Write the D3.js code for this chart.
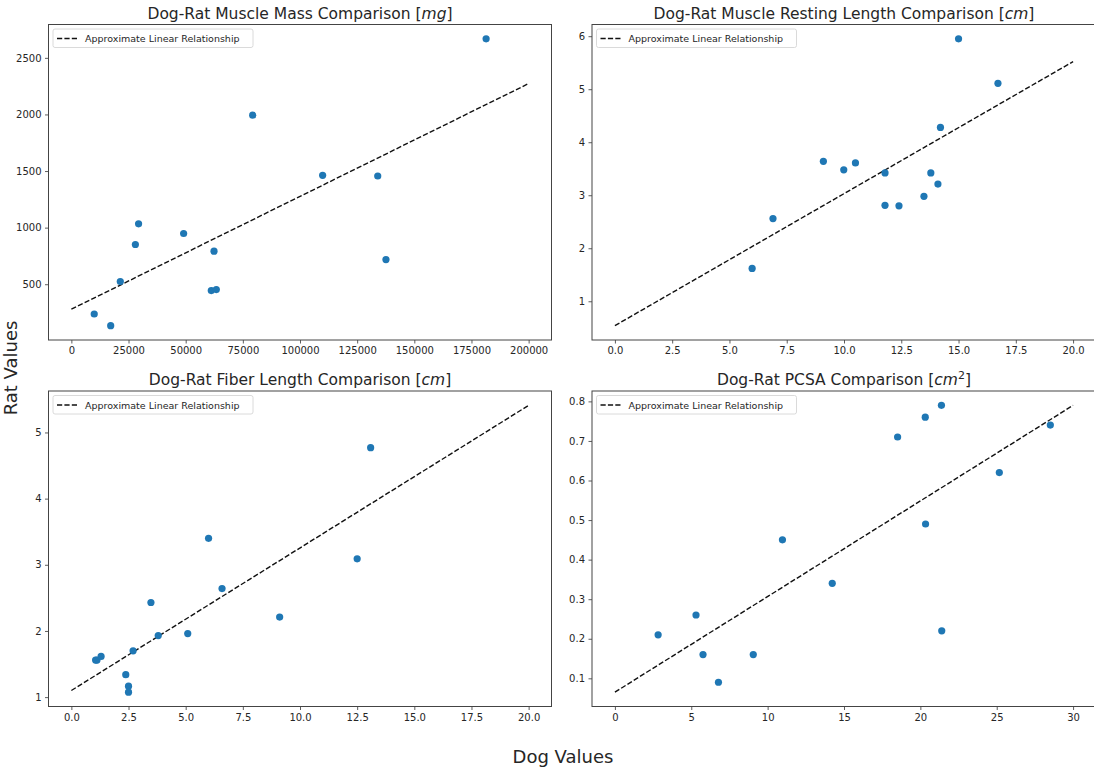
<!DOCTYPE html>
<html>
<head>
<meta charset="utf-8">
<script src="https://cdn.jsdelivr.net/npm/d3@7"></script>
<style>
  body { margin: 0; background: #fff; overflow: hidden; }
  svg { font-family: "DejaVu Sans", sans-serif; display: block; }
</style>
</head>
<body>
<svg id="chart" width="1094" height="770"></svg>
<script>
// ---------- data ----------
const massDog = [10000, 17200, 21400, 28000, 29400, 49100, 61200, 63400, 62400, 79300, 109900, 134000, 137600, 181400];
const massRat = [237, 134, 524, 851, 1034, 948, 444, 453, 792, 1994, 1462, 1456, 718, 2668];
const massLine = [279, 2273];          // rat value at dog = 0 and dog = 200000
const massLineX = [0, 200000];

const restDog = [5.99, 6.90, 9.10, 9.99, 10.50, 11.79, 11.79, 12.40, 13.49, 13.79, 14.10, 14.21, 15.00, 16.72];
const restRat = [1.62, 2.56, 3.64, 3.48, 3.61, 3.42, 2.81, 2.80, 2.98, 3.42, 3.21, 4.28, 5.95, 5.11];
const restLine = [0.54, 5.52];
const restLineX = [0, 20];

const fiberDog = [1.06, 1.12, 1.30, 2.38, 2.50, 2.50, 2.70, 3.48, 3.80, 5.09, 6.00, 6.59, 9.11, 12.50, 13.09];
const fiberRat = [1.56, 1.56, 1.615, 1.34, 1.165, 1.075, 1.70, 2.43, 1.93, 1.96, 3.40, 2.64, 2.21, 3.09, 4.77];
const fiberLine = [1.10, 5.41];
const fiberLineX = [0, 20];

const pcsaDog = [2.83, 5.31, 5.77, 6.78, 9.06, 10.97, 14.23, 18.51, 20.32, 20.34, 21.38, 21.40, 25.17, 28.51];
const pcsaRat = [0.21, 0.26, 0.16, 0.09, 0.16, 0.45, 0.34, 0.71, 0.76, 0.49, 0.79, 0.22, 0.62, 0.74];
const pcsaLine = [0.065, 0.79];
const pcsaLineX = [0, 30];

const massXTicks = [0, 25000, 50000, 75000, 100000, 125000, 150000, 175000, 200000];
const massYTicks = [500, 1000, 1500, 2000, 2500];
const restXTicks = [0, 2.5, 5, 7.5, 10, 12.5, 15, 17.5, 20];
const restYTicks = [1, 2, 3, 4, 5, 6];
const fiberXTicks = [0, 2.5, 5, 7.5, 10, 12.5, 15, 17.5, 20];
const fiberYTicks = [1, 2, 3, 4, 5];
const pcsaXTicks = [0, 5, 10, 15, 20, 25, 30];
const pcsaYTicks = [0.1, 0.2, 0.3, 0.4, 0.5, 0.6, 0.7, 0.8];

const titles = [
  {pre: "Dog-Rat Muscle Mass Comparison [", unit: "mg", sup: "", post: "]"},
  {pre: "Dog-Rat Muscle Resting Length Comparison [", unit: "cm", sup: "", post: "]"},
  {pre: "Dog-Rat Fiber Length Comparison [", unit: "cm", sup: "", post: "]"},
  {pre: "Dog-Rat PCSA Comparison [", unit: "cm", sup: "2", post: "]"}
];
const legendLabel = "Approximate Linear Relationship";
const xLabel = "Dog Values";
const yLabel = "Rat Values";

// ---------- layout ----------
const panels = [
  {x: 48.5, y: 24.5, w: 503, h: 315.5, dx: massDog, dy: massRat, lx: massLineX, ly: massLine, xt: massXTicks, yt: massYTicks, xf: d3.format("d"), yf: d3.format("d")},
  {x: 592, y: 24.5, w: 504, h: 315.5, dx: restDog, dy: restRat, lx: restLineX, ly: restLine, xt: restXTicks, yt: restYTicks, xf: d3.format(".1f"), yf: d3.format("d")},
  {x: 48.5, y: 391, w: 503, h: 315.5, dx: fiberDog, dy: fiberRat, lx: fiberLineX, ly: fiberLine, xt: fiberXTicks, yt: fiberYTicks, xf: d3.format(".1f"), yf: d3.format("d")},
  {x: 592, y: 391, w: 504, h: 315.5, dx: pcsaDog, dy: pcsaRat, lx: pcsaLineX, ly: pcsaLine, xt: pcsaXTicks, yt: pcsaYTicks, xf: d3.format("d"), yf: d3.format(".1f")}
];

const svg = d3.select("#chart");
const textColor = "#262626";

function padded(vals) {
  const [lo, hi] = d3.extent(vals);
  const m = (hi - lo) * 0.05;
  return [lo - m, hi + m];
}

panels.forEach((p, i) => {
  const g = svg.append("g").attr("transform", `translate(${p.x},${p.y})`);
  const x = d3.scaleLinear().domain(padded(p.dx.concat(p.lx))).range([0, p.w]);
  const y = d3.scaleLinear().domain(padded(p.dy.concat(p.ly))).range([p.h, 0]);

  // axes
  const xAxis = d3.axisBottom(x).tickValues(p.xt).tickFormat(p.xf).tickSizeOuter(0).tickSize(3.5).tickPadding(3.5);
  const yAxis = d3.axisLeft(y).tickValues(p.yt).tickFormat(p.yf).tickSizeOuter(0).tickSize(3.5).tickPadding(3.5);
  const gx = g.append("g").attr("transform", `translate(0,${p.h})`).call(xAxis);
  const gy = g.append("g").call(yAxis);
  [gx, gy].forEach(a => {
    a.select(".domain").remove();
    a.selectAll(".tick line").attr("stroke", "#333").attr("stroke-width", 0.8);
    a.selectAll(".tick text").attr("fill", textColor).style("font-size", "10px").style("font-family", "DejaVu Sans");
  });

  // frame
  g.append("rect").attr("x", 0).attr("y", 0).attr("width", p.w).attr("height", p.h)
    .attr("fill", "none").attr("stroke", "#444").attr("stroke-width", 1);

  // line
  g.append("line")
    .attr("x1", x(p.lx[0])).attr("y1", y(p.ly[0]))
    .attr("x2", x(p.lx[1])).attr("y2", y(p.ly[1]))
    .attr("stroke", "#111").attr("stroke-width", 1.4).attr("stroke-dasharray", "5.2,2.2");

  // points
  g.selectAll("circle.pt").data(p.dx.map((d, k) => [d, p.dy[k]])).join("circle")
    .attr("class", "pt")
    .attr("cx", d => x(d[0])).attr("cy", d => y(d[1]))
    .attr("r", 3.6).attr("fill", "#1f77b4");

  // legend
  const lg = g.append("g").attr("transform", "translate(4.5,4.5)");
  lg.append("rect").attr("width", 200).attr("height", 18.5).attr("rx", 2)
    .attr("fill", "#fff").attr("fill-opacity", 0.8).attr("stroke", "#d0d0d0").attr("stroke-width", 0.8);
  lg.append("line").attr("x1", 4).attr("x2", 25).attr("y1", 9.5).attr("y2", 9.5)
    .attr("stroke", "#111").attr("stroke-width", 1.4).attr("stroke-dasharray", "5.2,2.2");
  lg.append("text").attr("x", 32).attr("y", 13).attr("fill", textColor)
    .style("font-size", "9.5px").text(legendLabel);

  // title
  const t = titles[i];
  const tt = g.append("text").attr("x", p.w / 2).attr("y", -6).attr("text-anchor", "middle")
    .attr("fill", textColor).style("font-size", "15.5px");
  tt.append("tspan").text(t.pre);
  tt.append("tspan").style("font-style", "italic").text(t.unit);
  if (t.sup) tt.append("tspan").attr("dy", -6).style("font-size", "11px").text(t.sup);
  tt.append("tspan").attr("dy", t.sup ? 6 : 0).text(t.post);
});

// shared labels
svg.append("text").attr("x", 563).attr("y", 763).attr("text-anchor", "middle")
  .attr("fill", textColor).style("font-size", "18px").text(xLabel);
svg.append("text").attr("transform", "translate(17,368) rotate(-90)").attr("text-anchor", "middle")
  .attr("fill", textColor).style("font-size", "18px").text(yLabel);
</script>
</body>
</html>
